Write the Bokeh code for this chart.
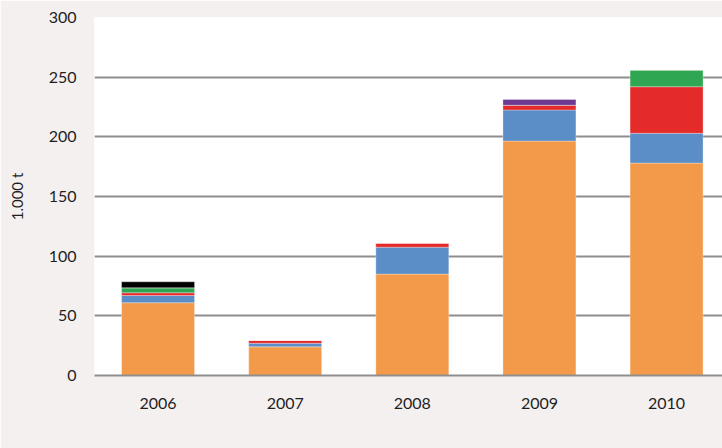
from bokeh.plotting import figure
from bokeh.models import ColumnDataSource, Range1d, FixedTicker, Legend, LegendItem
from bokeh.embed import file_html
from bokeh.resources import INLINE

# Exports per destination country, in thousands of tonnes
years = ["2006", "2007", "2008", "2009", "2010"]
nederland = [61, 24, 85, 196.5, 178]
duitsland = [6, 3, 22.5, 26, 25]
belgie = [2.3, 2.5, 3.5, 4, 39]
zwitserland = [4.2, 0, 0, 0, 14]
luxemburg = [0, 0, 0, 5, 0]
frankrijk = [5, 0, 0, 0, 0]

countries = ["Nederland", "Duitsland", "België", "Zwitserland", "Luxemburg", "Frankrijk"]
colors = ["#F39A4A", "#5B8EC6", "#E52B29", "#2FA652", "#6C3A91", "#000000"]
y_ticks = [0, 50, 100, 150, 200, 250, 300]

FONT = "Lato"
TEXT = "#1e1e1e"
GRID = "#8e8e8e"
PAGE = "#F5F0F0"

xpos = list(range(len(years)))
source = ColumnDataSource(dict(
    x=xpos,
    Nederland=nederland,
    Duitsland=duitsland,
    België=belgie,
    Zwitserland=zwitserland,
    Luxemburg=luxemburg,
    Frankrijk=frankrijk,
))

p = figure(
    width=722, height=448,
    frame_width=628, frame_height=358,
    x_range=Range1d(-0.5, 4.44), y_range=Range1d(0, 300),
    output_backend="svg", toolbar_location=None,
    min_border_left=94, min_border_right=0,
    min_border_top=17, min_border_bottom=0,
)
p.border_fill_color = PAGE
p.background_fill_color = "white"
p.outline_line_color = None

renderers = p.vbar_stack(
    countries, x="x", width=0.574, source=source,
    color=colors, line_color="white", line_width=0.6, line_alpha=0.5,
)

# Axes
p.xaxis.ticker = FixedTicker(ticks=xpos)
p.xaxis.major_label_overrides = {i: y for i, y in enumerate(years)}
p.yaxis.ticker = FixedTicker(ticks=y_ticks)
for ax in (p.xaxis[0], p.yaxis[0]):
    ax.major_tick_line_color = None
    ax.major_tick_out = 0
    ax.major_tick_in = 0
    ax.minor_tick_line_color = None
    ax.minor_tick_out = 0
    ax.minor_tick_in = 0
    ax.major_label_text_font = FONT
    ax.major_label_text_font_size = "16px"
    ax.major_label_text_color = TEXT
p.xaxis.major_label_standoff = 22
p.yaxis.major_label_standoff = 18
p.xaxis.axis_line_color = GRID
p.xaxis.axis_line_width = 2
p.yaxis.axis_line_color = None

p.yaxis.axis_label = "1.000 t"
p.yaxis.axis_label_text_font = FONT
p.yaxis.axis_label_text_font_size = "15px"
p.yaxis.axis_label_text_font_style = "normal"
p.yaxis.axis_label_text_color = TEXT
p.yaxis.axis_label_standoff = 20

p.xgrid.grid_line_color = None
p.ygrid.grid_line_color = GRID
p.ygrid.grid_line_width = 2

# Legend row anchored to the bottom edge
legend = Legend(
    items=[LegendItem(label=c, renderers=[r]) for c, r in zip(countries, renderers)],
    orientation="horizontal",
    location="bottom",
    glyph_width=9, glyph_height=9,
    label_standoff=6, spacing=20,
    padding=0, margin=0,
    border_line_color=None, background_fill_alpha=0,
    label_text_font=FONT, label_text_font_size="16px", label_text_color=TEXT,
)
p.add_layout(legend, "below")

open("out.html", "w").write(file_html(p, INLINE))
